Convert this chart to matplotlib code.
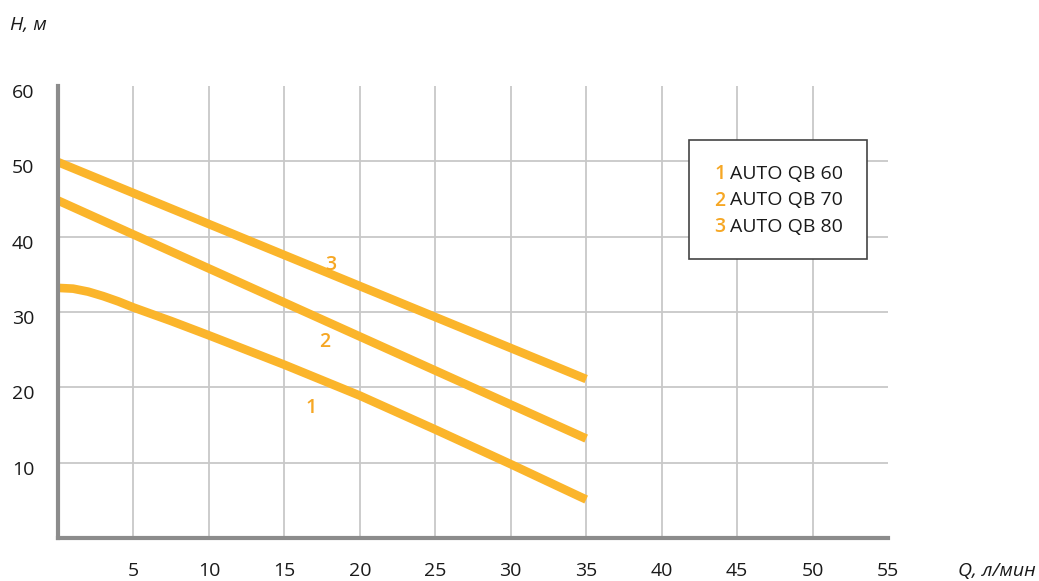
import matplotlib.pyplot as plt
import matplotlib.transforms as mtransforms
from matplotlib.patches import Rectangle
import numpy as np

plt.rcParams['font.family'] = ['Open Sans', 'DejaVu Sans']

# curve data (Q, л/мин -> H, м)
q1 = [0, 1, 2, 3, 4, 5, 7.5, 10, 15, 20, 25, 30, 35]
h1 = [33.2, 33.1, 32.7, 32.1, 31.4, 30.6, 28.8, 26.9, 23.0, 18.9, 14.4, 9.8, 5.1]
q2 = [0, 35]
h2 = [44.8, 13.2]
q3 = [0, 35]
h3 = [49.9, 21.1]

xticks = [5, 10, 15, 20, 25, 30, 35, 40, 45, 50, 55]
yticks = [10, 20, 30, 40, 50, 60]
models = ['AUTO QB 60', 'AUTO QB 70', 'AUTO QB 80']
curve_labels = [('1', 16.8, 17.3), ('2', 17.7, 26.0), ('3', 18.1, 36.2)]

orange = '#fbb52b'
num_color = '#f6a724'
W, H = 1039, 581

fig = plt.figure(figsize=(W / 100, H / 100), dpi=100)
ax = fig.add_axes([58 / W, 43 / H, 830 / W, 452 / H])
ax.set_xlim(0, 55)
ax.set_ylim(0, 60)

# grid (no line at 55 / 60)
for x in xticks[:-1]:
    ax.axvline(x, color='#c8c8c8', lw=1.3, zorder=1)
for y in yticks[:-1]:
    ax.axhline(y, color='#c8c8c8', lw=1.3, zorder=1)

for q, h in ((q1, h1), (q2, h2), (q3, h3)):
    ax.plot(q, h, color=orange, lw=6.2, solid_capstyle='butt',
            solid_joinstyle='round', zorder=3)

for txt, x, y in curve_labels:
    ax.text(x, y, txt, color=num_color, fontsize=14, fontweight='semibold',
            ha='center', va='center', zorder=4)

for s in ['top', 'right']:
    ax.spines[s].set_visible(False)
for s in ['left', 'bottom']:
    ax.spines[s].set_color('#8c8c8c')
    ax.spines[s].set_linewidth(3)
    ax.spines[s].set_zorder(5)

ax.set_xticks(xticks)
ax.set_yticks(yticks)
ax.tick_params(length=0, labelsize=14, colors='#1a1a1a')
ax.tick_params(axis='x', pad=17)
ax.tick_params(axis='y', pad=17)
off = mtransforms.ScaledTranslation(0, -5 / 100, fig.dpi_scale_trans)
for lab in ax.get_yticklabels():
    lab.set_transform(lab.get_transform() + off)

fig.text(10 / W, 1 - 25 / H, 'H, м', fontsize=14, style='italic',
         ha='left', va='center', color='#1a1a1a')
fig.text(1036 / W, 1 - 571 / H, 'Q, л/мин', fontsize=14, style='italic',
         ha='right', va='center', color='#1a1a1a')

# legend box
fig.patches.append(Rectangle((689 / W, 1 - 259 / H), 178 / W, 119 / H,
                             transform=fig.transFigure, facecolor='white',
                             edgecolor='#444444', lw=1.2, zorder=6))
for i, m in enumerate(models):
    y = 1 - (174 + i * 26.5) / H
    fig.text(714 / W, y, str(i + 1), color=num_color, fontsize=14,
             fontweight='semibold', ha='left', va='center', zorder=7)
    fig.text(730 / W, y, m, color='#1a1a1a', fontsize=14,
             ha='left', va='center', zorder=7)

fig.savefig('out.png', dpi=100)
